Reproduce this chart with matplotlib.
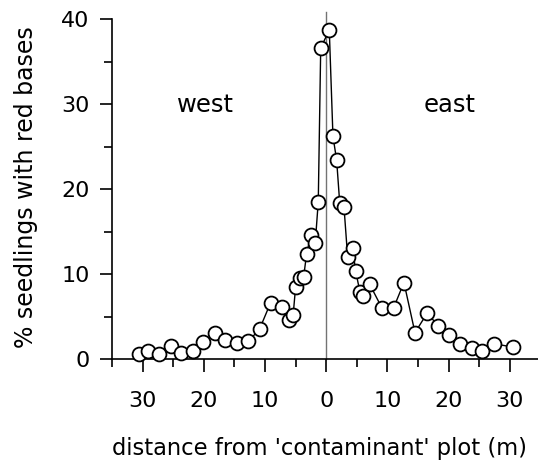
import matplotlib
matplotlib.use("Agg")

import matplotlib.pyplot as plt
from matplotlib.ticker import FuncFormatter, MultipleLocator


# ======================================================================================== #
# Dados: distância ao lote "contaminante" (negativo = oeste, positivo = leste)
# e percentagem de plântulas com base vermelha.
# ======================================================================================== #
distancia = [
    -30.6, -29.1, -27.3, -25.4, -23.7, -21.8, -20.1, -18.2, -16.5, -14.6,
    -12.7, -10.9, -9.1, -7.3, -6.1, -5.4, -5.0, -4.3, -3.7, -3.2,
    -2.5, -1.8, -1.3, -0.9,
    0.5, 1.1, 1.7, 2.2, 2.9, 3.5, 4.3, 4.8, 5.5, 6.0,
    7.1, 9.1, 11.0, 12.7, 14.5, 16.5, 18.3, 20.1, 21.9, 23.8,
    25.4, 27.4, 30.5,
]
percentual = [
    0.6, 0.9, 0.6, 1.5, 0.7, 0.9, 2.0, 3.1, 2.2, 1.9,
    2.1, 3.5, 6.6, 6.1, 4.6, 5.2, 8.5, 9.5, 9.6, 12.4,
    14.6, 13.6, 18.5, 36.6,
    38.7, 26.2, 23.4, 18.4, 17.9, 12.0, 13.1, 10.4, 7.9, 7.4,
    8.8, 6.0, 6.0, 9.0, 3.1, 5.4, 3.9, 2.8, 1.8, 1.3,
    1.0, 1.8, 1.4,
]

lados = ["west", "east"]

plt.rcParams["font.family"] = ["DejaVu Sans"]

largura_px, altura_px = 538, 463

fig = plt.figure(figsize=(largura_px / 100, altura_px / 100), dpi=100)
ax = fig.add_axes([
    112 / largura_px,
    1 - 359 / altura_px,
    (largura_px - 112) / largura_px,
    (359 - 19) / altura_px,
])

# Linha vertical marcando o lote de origem
ax.axvline(0, ymin=0, ymax=1.02, color="0.45", lw=1, clip_on=False, zorder=1)

ax.plot(
    distancia,
    percentual,
    color="black",
    lw=1,
    marker="o",
    ms=10,
    mfc="white",
    mec="black",
    mew=1.3,
    clip_on=False,
    zorder=3,
)

ax.text(-19.7, 29.9, lados[0], ha="center", va="center", fontsize=17.5)
ax.text(20.2, 29.9, lados[1], ha="center", va="center", fontsize=17.5)

ax.set_xlim(-35, 34.6)
ax.set_ylim(0, 40)

for lado in ["top", "right"]:
    ax.spines[lado].set_visible(False)
for lado in ["left", "bottom"]:
    ax.spines[lado].set_linewidth(1.2)

ax.xaxis.set_major_locator(MultipleLocator(10))
ax.xaxis.set_minor_locator(MultipleLocator(5))
ax.yaxis.set_major_locator(MultipleLocator(10))
ax.yaxis.set_minor_locator(MultipleLocator(5))

# Distâncias mostradas em valor absoluto nos dois lados
ax.xaxis.set_major_formatter(FuncFormatter(lambda valor, _: f"{abs(valor):.0f}"))

ax.tick_params(which="major", length=9, width=1.2, labelsize=16, direction="out")
ax.tick_params(which="minor", length=5.5, width=1.2, direction="out")
ax.tick_params(axis="x", which="major", pad=14)
ax.tick_params(axis="y", which="major", pad=7)

ax.set_xlabel("distance from 'contaminant' plot (m)", fontsize=16.3)
ax.xaxis.label.set_ha("left")
ax.xaxis.label.set_va("center")
ax.xaxis.set_label_coords(0.0, -(448 - 359) / 340)

ax.set_ylabel("% seedlings with red bases", fontsize=17)
ax.yaxis.label.set_va("center")
ax.yaxis.set_label_coords(-(112 - 26) / 426, (359 - 187) / 340)

plt.savefig("out.png", dpi=100)
plt.close()
